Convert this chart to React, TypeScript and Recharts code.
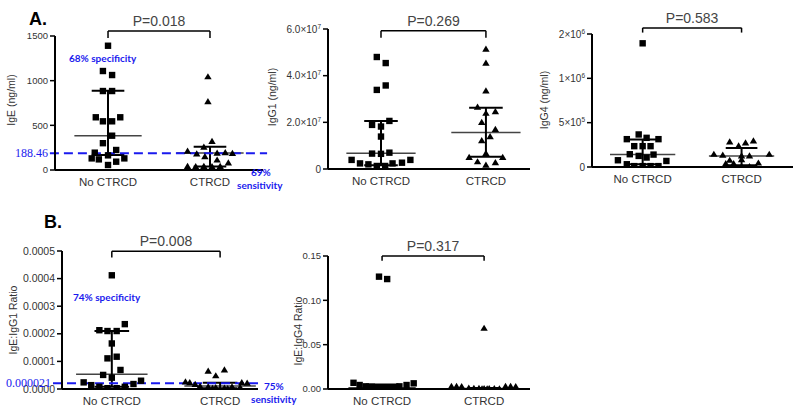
import { ComposedChart, Scatter, XAxis, YAxis, ReferenceLine } from "recharts";

const groups = ["No CTRCD", "CTRCD"];

// A. IgE (ng/ml)
const igeNo = [1391, 1108, 1063, 884, 884, 590, 590, 545, 545, 384, 300, 224, 194, 164, 130, 119, 93, 130, 56];
const igeNoJit = [0, -0.05, 0.04, -0.05, 0.04, -0.12, 0.12, -0.05, 0.04, 0.04, -0.05, 0.08, -0.13, 0, -0.16, -0.09, 0.08, 0.16, 0];
const igeYes = [1044, 765, 320, 257, 212, 180, 190, 194, 187, 150, 112, 80, 40, 38, 40, 38, 40];
const igeYesJit = [-0.02, -0.02, 0.02, -0.06, -0.22, -0.13, 0.07, 0.15, 0.22, -0.05, 0.07, 0.18, -0.22, -0.14, -0.06, 0.02, 0.1];
const igeMedian = [384, 190];
const igeQ1 = [168, 40];
const igeQ3 = [888, 261];

// A. IgG1 (ng/ml)
const igg1No = [4.8e7, 4.54e7, 3.39e7, 3.58e7, 2.06e7, 1.89e7, 1.82e7, 1.39e7, 6.6e6, 6.5e6, 7.0e6, 3.9e6, 2.4e6, 2.0e6, 1.3e6, 1.3e6, 2.4e6, 2.7e6, 3.9e6];
const igg1NoJit = [-0.04, 0.045, -0.04, 0.045, 0.08, -0.085, 0, 0, -0.085, 0, 0.08, -0.28, -0.2, -0.12, -0.04, 0.04, 0.11, 0.2, 0.28];
const igg1Yes = [5.14e7, 4.54e7, 3.35e7, 2.65e7, 2.39e7, 2.46e7, 2.0e7, 1.7e7, 1.39e7, 1.22e7, 6.7e6, 5.0e6, 5.0e6, 3.1e6, 2.7e6, 1.7e6];
const igg1YesJit = [0, 0, 0, -0.08, 0, 0.09, -0.04, 0.09, 0.04, -0.04, 0, -0.16, 0.16, -0.08, 0.09, 0];
const igg1Median = [6.7e6, 1.56e7];
const igg1Q1 = [1.6e6, 5.3e6];
const igg1Q3 = [2.06e7, 2.63e7];

// A. IgG4 (ng/ml)
const igg4No = [1.395e6, 3.67e5, 3.14e5, 3.29e5, 3.14e5, 2.35e5, 2.35e5, 2.35e5, 1.44e5, 1.25e5, 1.07e5, 1.4e5, 7.6e4, 6.8e4, 3.1e4, 1.0e4, 1.0e4, 1.0e4, 1.0e4];
const igg4NoJit = [0, -0.04, -0.16, 0.04, 0.16, -0.085, 0, 0.08, -0.13, -0.04, 0.04, 0.11, -0.25, 0.24, -0.16, -0.085, 0, 0.08, 0.16];
const igg4Yes = [2.83e5, 2.72e5, 2.95e5, 2.38e5, 1.44e5, 1.33e5, 1.25e5, 1.44e5, 1.25e5, 7.6e4, 8.4e4, 3.8e4, 3.8e4, 4.5e4, 5e3, 5e3];
const igg4YesJit = [-0.12, 0.04, 0.12, -0.03, -0.28, -0.19, 0.08, 0.28, 0, -0.12, 0, -0.16, -0.08, 0.17, 0, 0.08];
const igg4Median = [1.4e5, 1.25e5];
const igg4Q1 = [3.0e4, 1.9e4];
const igg4Q3 = [3.1e5, 2.15e5];

// B. IgE:IgG1 ratio
const r1No = [4.12e-4, 2.13e-4, 2.1e-4, 2.1e-4, 2.35e-4, 1.65e-4, 1.11e-4, 1.17e-4, 6.9e-5, 5.1e-5, 4.1e-5, 2.4e-5, 3.0e-5, 1.4e-5, 1.8e-5, 8e-6, 8e-6, 3e-6, 3e-6];
const r1NoJit = [0, -0.115, -0.04, 0.045, 0.12, 0, -0.04, 0.045, 0.08, -0.08, 0, -0.26, 0.27, -0.19, 0.2, -0.115, 0.12, -0.04, 0.045];
const r1Yes = [6.5e-5, 4.8e-5, 6.9e-5, 2.6e-5, 2.3e-5, 1.7e-5, 2.3e-5, 2.1e-5, 1.0e-5, 8e-6, 8e-6, 6e-6, 5e-6, 3e-6, 2e-6, 1e-6];
const r1YesJit = [-0.11, -0.04, 0.04, -0.32, -0.28, -0.23, 0.2, 0.25, -0.185, -0.11, 0.11, 0.185, -0.04, 0.04, -0.07, 0.07];
const r1Median = [5.3e-5, 1.1e-5];
const r1Q1 = [8e-6, 3e-6];
const r1Q3 = [2.1e-4, 2.3e-5];

// B. IgE:IgG4 ratio
const r4No = [0.1267, 0.124, 0.007, 0.0045, 0.0064, 0.0045, 0.003, 0.0025, 0.002, 0.0015, 0.001, 0.002, 0.003, 0.0008, 0.0005, 0.0005, 0.0006, 0.001, 0.0012];
const r4NoJit = [-0.03, 0.05, -0.28, -0.22, 0.31, 0.24, -0.16, -0.1, -0.05, 0, 0.05, 0.1, 0.17, -0.08, -0.02, 0.03, 0.08, 0.13, -0.13];
const r4Yes = [0.0685, 0.003, 0.003, 0.0028, 0.003, 0.003, 0.0028, 0.001, 0.0008, 0.0006, 0.0005, 0.0005, 0.0004, 0.0003, 0.0003, 0.0002];
const r4YesJit = [0, -0.32, -0.27, -0.22, 0.21, 0.26, 0.31, -0.15, -0.1, -0.05, 0, 0.05, 0.1, 0.15, -0.02, 0.03];
const r4Median = [0.0015, 0.0005];
const r4Q1 = [0.0006, 0.0003];
const r4Q3 = [0.005, 0.001];

const BLUE = "#1a1aee";
const SANS = "'Liberation Sans', Arial, sans-serif";

const pts = (vals: number[], jit: number[], g: number) => vals.map((v, i) => ({ x: g + jit[i], y: v }));

const plain = (v: number) => [String(v)];
const fixed = (d: number) => (v: number) => [v.toFixed(d)];
const e7 = (v: number) => (v === 0 ? ["0"] : [`${(v / 1e7).toFixed(1)}×10`, "7"]);
// Prism-style rounding: 1.5e6 is printed as 2×10^6
const sci = (v: number) => {
  if (v === 0) return ["0"];
  const e = Math.floor(Math.log10(v));
  return [`${Math.round(v / 10 ** e)}×10`, String(e)];
};

const panels = [
  {
    key: "ige", left: 55, right: 263, top: 36, bottom: 170, xDomain: [0.48, 2.52], yDomain: [0, 1500],
    yTicks: [0, 500, 1000, 1500], fmt: plain, tickFont: 9.5, yLabel: "IgE (ng/ml)", labelX: 12, labelY: 100,
    no: pts(igeNo, igeNoJit, 1), yes: pts(igeYes, igeYesJit, 2),
    median: igeMedian, q1: igeQ1, q3: igeQ3, p: "P=0.018", bracket: [1556, 1478],
    cut: { y: 188.46, x: [0.43, 2.56], text: "188.46" },
  },
  {
    key: "igg1", left: 328, right: 530, top: 29, bottom: 169, xDomain: [0.495, 2.42], yDomain: [0, 6e7],
    yTicks: [0, 2e7, 4e7, 6e7], fmt: e7, tickFont: 10, yLabel: "IgG1 (ng/ml)", labelX: 273, labelY: 97,
    no: pts(igg1No, igg1NoJit, 1), yes: pts(igg1Yes, igg1YesJit, 2),
    median: igg1Median, q1: igg1Q1, q3: igg1Q3, p: "P=0.269", bracket: [5.93e7, 5.63e7],
  },
  {
    key: "igg4", left: 592, right: 793, top: 34, bottom: 167, xDomain: [0.488, 2.52], yDomain: [0, 1.5e6],
    yTicks: [0, 5e5, 1e6, 1.5e6], fmt: sci, tickFont: 10, yLabel: "IgG4 (ng/ml)", labelX: 545, labelY: 100,
    no: pts(igg4No, igg4NoJit, 1), yes: pts(igg4Yes, igg4YesJit, 2),
    median: igg4Median, q1: igg4Q1, q3: igg4Q3, p: "P=0.583", bracket: [1.569e6, 1.516e6],
  },
  {
    key: "r1", left: 62, right: 258, top: 251, bottom: 389, xDomain: [0.54, 2.35], yDomain: [0, 0.0005],
    yTicks: [0, 0.0001, 0.0002, 0.0003, 0.0004, 0.0005], fmt: fixed(4), tickFont: 10.5, yLabel: "IgE:IgG1 Ratio", labelX: 14, labelY: 320,
    no: pts(r1No, r1NoJit, 1), yes: pts(r1Yes, r1YesJit, 2),
    median: r1Median, q1: r1Q1, q3: r1Q3, p: "P=0.008", bracket: [0.000499, 0.000476],
    cut: { y: 0.000021, x: [0.457, 2.396], text: "0.000021" },
  },
  {
    key: "r4", left: 328, right: 530, top: 256, bottom: 389, xDomain: [0.47, 2.45], yDomain: [0, 0.15],
    yTicks: [0, 0.05, 0.1, 0.15], fmt: fixed(2), tickFont: 9.5, yLabel: "IgE:IgG4 Ratio", labelX: 299, labelY: 331,
    no: pts(r4No, r4NoJit, 1), yes: pts(r4Yes, r4YesJit, 2),
    median: r4Median, q1: r4Q1, q3: r4Q3, p: "P=0.317", bracket: [0.15, 0.1447],
  },
];

const Square = (p: any) => <rect x={p.cx - 3.2} y={p.cy - 3.2} width={6.4} height={6.4} fill="#000" />;
const Triangle = (p: any) => (
  <path d={`M${p.cx},${p.cy - 3.6}L${p.cx + 3.7},${p.cy + 2.6}L${p.cx - 3.7},${p.cy + 2.6}Z`} fill="#000" />
);

const YW = 60;
const XH = 30;

function Panel({ c }: { c: (typeof panels)[number] }) {
  const fmt = c.fmt as (v: number) => string[];
  const YTick = (props: any) => {
    const parts = fmt(props.payload.value);
    return (
      <text x={props.x} y={props.y} dy="0.35em" textAnchor="end" fill="#333" fontSize={c.tickFont} fontFamily={SANS}>
        {parts[0]}
        {parts[1] && (
          <tspan dy={-4} fontSize={c.tickFont * 0.65}>
            {parts[1]}
          </tspan>
        )}
      </text>
    );
  };
  const YTitle = () => (
    <text
      x={c.labelX}
      y={c.labelY}
      transform={`rotate(-90 ${c.labelX} ${c.labelY})`}
      textAnchor="middle"
      dominantBaseline="middle"
      fill="#333"
      fontSize={10.5}
      fontFamily={SANS}
    >
      {c.yLabel}
    </text>
  );
  return (
    <div style={{ position: "absolute", left: 0, top: 0 }}>
      <ComposedChart
        width={800}
        height={416}
        margin={{ top: c.top, right: 800 - c.right, bottom: 416 - c.bottom - XH, left: c.left - YW }}
      >
        <XAxis
          type="number"
          dataKey="x"
          domain={c.xDomain}
          ticks={[1, 2]}
          tickFormatter={(v) => groups[v - 1]}
          tickLine={false}
          axisLine={{ stroke: "#000", strokeWidth: 2 }}
          tick={{ fontSize: 11.5, fill: "#333" }}
          height={XH}
          allowDataOverflow
        />
        <YAxis
          type="number"
          dataKey="y"
          domain={c.yDomain}
          ticks={c.yTicks}
          interval={0}
          width={YW}
          allowDataOverflow
          axisLine={{ stroke: "#000", strokeWidth: 2 }}
          tickLine={{ stroke: "#000", strokeWidth: 1.5 }}
          tickSize={5}
          tickMargin={2}
          tick={<YTick />}
          label={{ content: <YTitle /> }}
        />
        {[0, 1].map((i) => (
          <ReferenceLine
            key={`med${i}`}
            segment={[{ x: i + 1 - 0.33, y: c.median[i] }, { x: i + 1 + 0.33, y: c.median[i] }]}
            stroke="#444"
            strokeWidth={1.5}
            ifOverflow="visible"
          />
        ))}
        {[0, 1].map((i) => (
          <ReferenceLine
            key={`iqr${i}`}
            segment={[{ x: i + 1, y: c.q1[i] }, { x: i + 1, y: c.q3[i] }]}
            stroke="#000"
            strokeWidth={2}
            ifOverflow="visible"
          />
        ))}
        {[0, 1].flatMap((i) =>
          [c.q1[i], c.q3[i]].map((q, j) => (
            <ReferenceLine
              key={`cap${i}${j}`}
              segment={[{ x: i + 1 - 0.16, y: q }, { x: i + 1 + 0.16, y: q }]}
              stroke="#000"
              strokeWidth={2}
              ifOverflow="visible"
            />
          ))
        )}
        <Scatter data={c.no} shape={<Square />} isAnimationActive={false} />
        <Scatter data={c.yes} shape={<Triangle />} isAnimationActive={false} />
        <ReferenceLine
          segment={[{ x: 1, y: c.bracket[0] }, { x: 2, y: c.bracket[0] }]}
          stroke="#000"
          strokeWidth={1.5}
          ifOverflow="visible"
          label={{ value: c.p, position: "top", offset: 5, fill: "#444", fontSize: 14 }}
        />
        {[1, 2].map((g) => (
          <ReferenceLine
            key={`leg${g}`}
            segment={[{ x: g, y: c.bracket[0] }, { x: g, y: c.bracket[1] }]}
            stroke="#000"
            strokeWidth={1.5}
            ifOverflow="visible"
          />
        ))}
        {c.cut && (
          <ReferenceLine
            segment={[{ x: c.cut.x[0], y: c.cut.y }, { x: c.cut.x[1], y: c.cut.y }]}
            stroke={BLUE}
            strokeWidth={2}
            strokeDasharray="9 5"
            ifOverflow="visible"
            label={{
              value: c.cut.text,
              position: "left",
              offset: 2,
              fill: BLUE,
              fontSize: 12,
              fontFamily: "'Liberation Serif', serif",
            }}
          />
        )}
      </ComposedChart>
    </div>
  );
}

const note = (text: string, left: number, top: number) => (
  <div
    key={text + left + top}
    style={{
      position: "absolute",
      left,
      top,
      fontFamily: "Lato, sans-serif",
      fontWeight: 700,
      fontSize: 10,
      lineHeight: "10px",
      color: BLUE,
      whiteSpace: "nowrap",
    }}
  >
    {text}
  </div>
);

const letter = (text: string, left: number, top: number) => (
  <div
    key={text}
    style={{
      position: "absolute",
      left,
      top,
      fontFamily: SANS,
      fontWeight: 700,
      fontSize: 18,
      lineHeight: "18px",
      color: "#000",
    }}
  >
    {text}
  </div>
);

export default function App() {
  return (
    <div
      style={{
        position: "absolute",
        left: 0,
        top: 0,
        width: 800,
        height: 416,
        background: "#fff",
        overflow: "hidden",
        fontFamily: SANS,
      }}
    >
      {panels.map((c) => (
        <Panel key={c.key} c={c} />
      ))}
      {letter("A.", 29, 10)}
      {letter("B.", 44, 213)}
      {note("68% specificity", 69, 53)}
      {note("69%", 251, 167)}
      {note("sensitivity", 237, 180)}
      {note("74% specificity", 73, 292)}
      {note("75%", 264, 381)}
      {note("sensitivity", 251, 394)}
    </div>
  );
}
